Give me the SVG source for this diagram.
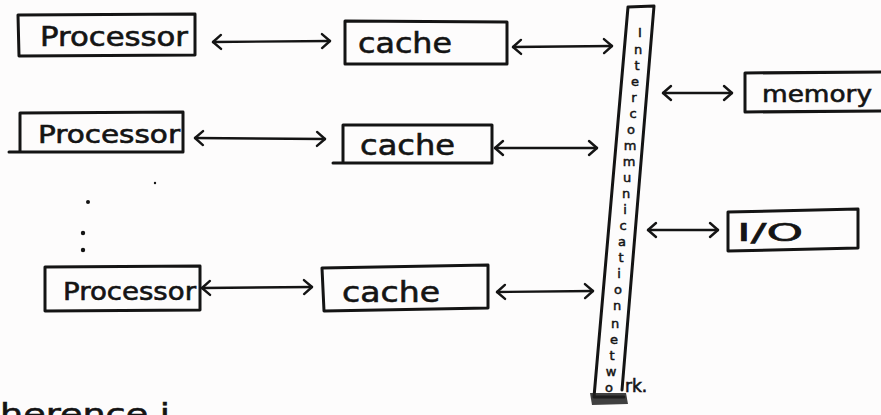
<svg xmlns="http://www.w3.org/2000/svg" width="881" height="415" viewBox="0 0 881 415">
  <style>
    .box { fill: none; stroke: #141414; stroke-width: 3; stroke-linejoin: round; stroke-linecap: round; }
    .lbl { font-family: "DejaVu Sans", "Liberation Sans", sans-serif; fill: #141414; stroke: #141414; stroke-width: 0.6; }
    .v { font-family: "DejaVu Sans", "Liberation Sans", sans-serif; font-size: 13px; fill: #141414; stroke: #141414; stroke-width: 0.5; text-anchor: middle; }
    .conn { fill: none; stroke: #141414; stroke-width: 2.4; stroke-linecap: round; }
  </style>
  <defs>
    <marker id="chev" viewBox="-12 -9 14 18" refX="0" refY="0" markerWidth="14" markerHeight="18" markerUnits="userSpaceOnUse" orient="auto-start-reverse">
      <path d="M-8,-7 L0,0 L-8,7" fill="none" stroke="#141414" stroke-width="2.4" stroke-linecap="round" stroke-linejoin="round"/>
    </marker>
  </defs>

  <rect width="881" height="415" fill="#fdfcfc"/>

  <!-- processors -->
  <g id="processor1">
    <path class="box" d="M18,15 L195,14 L195,55 L19,56 Z"/>
    <text class="lbl" x="40" y="46" font-size="26" textLength="148" lengthAdjust="spacingAndGlyphs">Processor</text>
  </g>
  <g id="processor2">
    <path class="box" d="M20,113 L183,112 L183,152 M9,152 L183,152 M20,113 L20,152"/>
    <text class="lbl" x="38" y="143" font-size="24" textLength="142" lengthAdjust="spacingAndGlyphs">Processor</text>
  </g>
  <g id="processor3">
    <path class="box" d="M45,267 L200,266 L200,310 L45,311 Z"/>
    <text class="lbl" x="63" y="300" font-size="24" textLength="133" lengthAdjust="spacingAndGlyphs">Processor</text>
  </g>

  <!-- ellipsis between processors -->
  <g id="ellipsis" fill="#141414">
    <circle cx="155" cy="183" r="1.2"/>
    <circle cx="88" cy="202" r="2"/>
    <circle cx="83" cy="233" r="2.2"/>
    <circle cx="83" cy="250" r="2.2"/>
  </g>

  <!-- caches -->
  <g id="cache1">
    <path class="box" d="M345,21 L507,22 L507,64 L345,64 Z"/>
    <text class="lbl" x="358" y="53" font-size="28" textLength="94" lengthAdjust="spacingAndGlyphs">cache</text>
  </g>
  <g id="cache2">
    <path class="box" d="M343,125 L492,125 L492,163 M333,163 L492,163 M343,125 L343,163"/>
    <text class="lbl" x="360" y="155" font-size="28" textLength="95" lengthAdjust="spacingAndGlyphs">cache</text>
  </g>
  <g id="cache3">
    <path class="box" d="M322,268 L488,265 L488,308 L324,311 Z"/>
    <text class="lbl" x="342" y="302" font-size="28" textLength="98" lengthAdjust="spacingAndGlyphs">cache</text>
  </g>

  <!-- interconnection network: a slanted column with the name stacked letter by letter -->
  <g id="network">
    <path class="box" d="M628,7 L654,6 L622,390 M628,7 L594,397 L624,397"/>
    <path d="M590,393 L626,393 L628,404 L592,405 Z" fill="#1e1e1e" opacity="0.85"/>
    <text class="v" x="640" y="37" font-size="18">I</text>
    <text class="v" x="638" y="54">n</text>
    <text class="v" x="637" y="70">t</text>
    <text class="v" x="635" y="86">e</text>
    <text class="v" x="634" y="102">r</text>
    <text class="v" x="633" y="118">c</text>
    <text class="v" x="631" y="134">o</text>
    <text class="v" x="630" y="150">m</text>
    <text class="v" x="629" y="166">m</text>
    <text class="v" x="627" y="182">u</text>
    <text class="v" x="626" y="198">n</text>
    <text class="v" x="625" y="214">i</text>
    <text class="v" x="623" y="230">c</text>
    <text class="v" x="622" y="246">a</text>
    <text class="v" x="621" y="262">t</text>
    <text class="v" x="619" y="278">i</text>
    <text class="v" x="618" y="294">o</text>
    <text class="v" x="617" y="310">n</text>
    <text class="v" x="615" y="328">n</text>
    <text class="v" x="614" y="344">e</text>
    <text class="v" x="612" y="360">t</text>
    <text class="v" x="611" y="376">w</text>
    <text class="v" x="609" y="392">o</text>
    <text class="lbl" x="625" y="392" font-size="17" stroke-width="0.4">rk.</text>
  </g>

  <!-- memory and I/O -->
  <g id="memory">
    <path class="box" d="M745,73 L881,72 M745,73 L745,112 L881,111"/>
    <text class="lbl" x="762" y="102" font-size="23" textLength="110" lengthAdjust="spacingAndGlyphs">memory</text>
  </g>
  <g id="io">
    <path class="box" d="M728,212 L858,209 L858,248 L728,251 Z"/>
    <text class="lbl" x="737" y="241" font-size="24" textLength="66" lengthAdjust="spacingAndGlyphs">I/O</text>
  </g>

  <!-- bidirectional links -->
  <g id="connectors">
    <path class="conn" d="M213,42 L330,41" marker-start="url(#chev)" marker-end="url(#chev)"/>
    <path class="conn" d="M513,47 L612,46" marker-start="url(#chev)" marker-end="url(#chev)"/>
    <path class="conn" d="M195,138 L325,139" marker-start="url(#chev)" marker-end="url(#chev)"/>
    <path class="conn" d="M495,148 L597,148" marker-start="url(#chev)" marker-end="url(#chev)"/>
    <path class="conn" d="M202,288 L312,287" marker-start="url(#chev)" marker-end="url(#chev)"/>
    <path class="conn" d="M497,292 L593,291" marker-start="url(#chev)" marker-end="url(#chev)"/>
    <path class="conn" d="M663,93 L732,93" marker-start="url(#chev)" marker-end="url(#chev)"/>
    <path class="conn" d="M648,230 L718,230" marker-start="url(#chev)" marker-end="url(#chev)"/>
  </g>

  <!-- first words of the next line of notes, running off the bottom edge -->
  <text class="lbl" x="0" y="424" font-size="29" textLength="170" lengthAdjust="spacingAndGlyphs">herence i</text>
</svg>
